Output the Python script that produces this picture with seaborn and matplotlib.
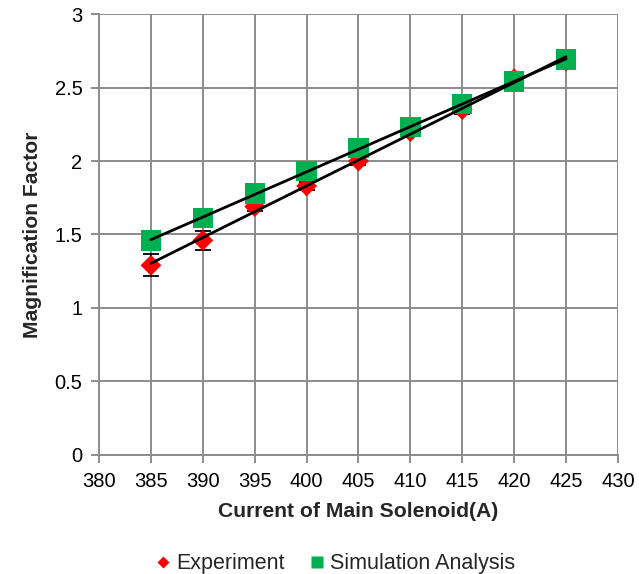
import numpy as np
import pandas as pd
import matplotlib
matplotlib.use("Agg")
import matplotlib.pyplot as plt
import seaborn as sns
from matplotlib.lines import Line2D

current = [385, 390, 395, 400, 405, 410, 415, 420, 425]
experiment = [1.29, 1.46, 1.69, 1.83, 2.00, 2.20, 2.35, 2.56, 2.68]
experiment_err = [0.075, 0.065, 0.03, 0.03, 0.03, 0.03, 0.03, 0.03, 0.03]
simulation = [1.46, 1.61, 1.78, 1.93, 2.09, 2.23, 2.39, 2.54, 2.69]

x_ticks = [380, 385, 390, 395, 400, 405, 410, 415, 420, 425, 430]
y_ticks = [0, 0.5, 1, 1.5, 2, 2.5, 3]
y_tick_labels = ["0", "0.5", "1", "1.5", "2", "2.5", "3"]

df = pd.DataFrame({"current": current, "experiment": experiment,
                   "err": experiment_err, "simulation": simulation})

sns.set_theme(style="white")
plt.rcParams["font.family"] = ["Liberation Sans", "DejaVu Sans"]

fig = plt.figure(figsize=(6.39, 5.74), dpi=100)
ax = fig.add_axes([0.155, 0.2075, 0.812, 0.768])

red = "#FF0000"
green = "#00B050"
grid_c = "#8C8C8C"

# Experiment: diamonds with error bars
ax.errorbar(df["current"], df["experiment"], yerr=df["err"], fmt="none",
            ecolor="black", elinewidth=1.3, capsize=6, capthick=1.3, zorder=3)
sns.scatterplot(data=df, x="current", y="experiment", marker="D", s=112,
                color=red, edgecolor="none", ax=ax, zorder=4, legend=False)
# Simulation: squares
sns.scatterplot(data=df, x="current", y="simulation", marker="s", s=215,
                color=green, edgecolor="none", ax=ax, zorder=5, legend=False)

# Linear trend lines
sns.regplot(data=df, x="current", y="experiment", scatter=False, ci=None,
            ax=ax, line_kws=dict(color="black", lw=2, zorder=6))
sns.regplot(data=df, x="current", y="simulation", scatter=False, ci=None,
            ax=ax, line_kws=dict(color="black", lw=2, zorder=6))

ax.set_xlim(380, 430)
ax.set_ylim(0, 3)
ax.set_xticks(x_ticks)
ax.set_yticks(y_ticks)
ax.set_yticklabels(y_tick_labels)
ax.grid(True, color=grid_c, lw=1.4)
ax.set_axisbelow(True)

for side in ["top", "right"]:
    ax.spines[side].set_visible(False)
for side in ["left", "bottom"]:
    ax.spines[side].set_color(grid_c)
    ax.spines[side].set_linewidth(1.4)

ax.tick_params(axis="both", which="major", direction="out", length=6,
               width=1.4, color=grid_c, labelsize=14.5, labelcolor="black",
               left=True, bottom=True, pad=6)

ax.set_xlabel("Current of Main Solenoid(A)", fontsize=15.2, fontweight="bold",
              labelpad=8)
ax.set_ylabel("Magnification Factor", fontsize=15.2, fontweight="bold",
              labelpad=9)

handles = [
    Line2D([], [], marker="D", color=red, linestyle="none", markersize=6.2,
           markeredgecolor="none", label="Experiment"),
    Line2D([], [], marker="s", color=green, linestyle="none", markersize=9,
           markeredgecolor="none", label="Simulation Analysis"),
]
fig.legend(handles=handles, loc="center", bbox_to_anchor=(0.522, 0.018),
           ncol=2, frameon=False, fontsize=15.5, handletextpad=0.1,
           columnspacing=1.0, handlelength=1.0)

fig.savefig("out.png", dpi=100)
